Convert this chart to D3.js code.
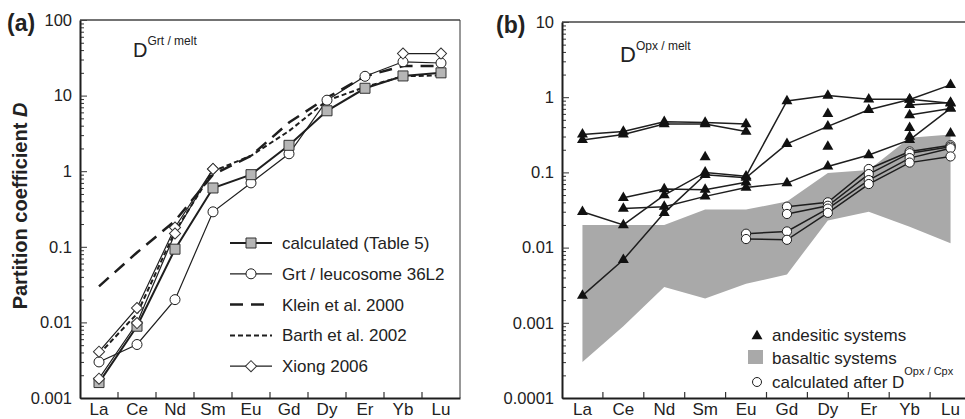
<!DOCTYPE html>
<html>
<head>
<meta charset="utf-8">
<script src="https://cdn.jsdelivr.net/npm/d3@7/dist/d3.min.js"></script>
<style>
  body { margin: 0; background: #fff; }
  svg { display: block; font-family: "Liberation Sans", Arial, Helvetica, sans-serif; }
</style>
</head>
<body>
<svg id="chart" width="965" height="419"></svg>
<script>
// categories (REE)
const ree = ["La", "Ce", "Nd", "Sm", "Eu", "Gd", "Dy", "Er", "Yb", "Lu"];

// panel (a): D Grt/melt
const grtCalc = [0.0016, 0.0089, 0.093, 0.6, 0.9, 2.2, 6.3, 12.5, 18.2, 20];
const grtLeuco = [0.003, 0.0051, 0.02, 0.29, 0.7, 1.7, 8.7, 18, 28, 27];
const klein2000 = [0.03, 0.084, 0.22, 0.9, 1.6, 4.4, 9.4, 18, 24.6, 24.6];
const barth2002 = [0.0038, 0.013, 0.16, 1.0, 1.6, 3.4, 8.6, 13, 18, 18.5];
const xiongA = [0.0041, 0.0155, 0.18, 1.07, null, null, null, null, 36, 36];
const xiongB = [0.0018, 0.0098, 0.15, 1.07, null, null, null, null, null, null];

// panel (b): D Opx/melt
const andA1 = [0.32, 0.35, 0.47, 0.46, 0.44, null, null, null, null, null];
const andA2 = [0.27, 0.32, 0.44, 0.44, 0.35, null, null, null, null, null];
const andA3 = [0.03, 0.02, 0.05, 0.1, 0.089, 0.89, 1.05, 0.94, 0.94, 0.83];
const andA4 = [0.0023, 0.0069, 0.029, 0.093, 0.085, 0.24, 0.41, 0.68, 0.93, 1.46];
const andA5 = [null, 0.046, 0.06, 0.059, 0.074, null, null, null, null, null];
const andA6 = [null, 0.033, 0.035, 0.048, 0.063, 0.072, 0.12, 0.17, 0.27, 0.71];
const andA7 = [null, null, null, null, null, null, null, null, 0.79, 0.85];
const andA8 = [null, null, null, null, null, null, null, null, 0.58, 0.71];
const andSingles = [
  [null, null, null, 0.16, null, null, null, null, null, null],
  [null, null, null, null, null, null, 0.6, null, null, null],
  [null, null, null, null, null, null, 0.22, null, null, null],
  [null, null, null, null, null, null, null, null, 0.39, null],
  [null, null, null, null, null, null, null, null, 0.3, null],
  [null, null, null, null, null, null, null, null, null, 0.33]
];
const basaltMax = [0.02, 0.02, 0.02, 0.032, 0.032, 0.041, 0.098, 0.108, 0.29, 0.32];
const basaltMin = [0.0003, 0.0009, 0.003, 0.0021, 0.0033, 0.0044, 0.023, 0.03, 0.019, 0.0114];
const calcC1 = [null, null, null, null, null, 0.035, 0.04, 0.111, 0.19, 0.23];
const calcC2 = [null, null, null, null, null, 0.028, 0.036, 0.095, 0.18, 0.22];
const calcC3 = [null, null, null, null, 0.0153, 0.0164, 0.033, 0.079, 0.155, 0.21];
const calcC4 = [null, null, null, null, 0.013, 0.0127, 0.029, 0.07, 0.135, 0.163];

// axis ticks
const decadesA = [0.001, 0.01, 0.1, 1, 10, 100];
const labelsA = ["0.001", "0.01", "0.1", "1", "10", "100"];
const decadesB = [0.0001, 0.001, 0.01, 0.1, 1, 10];
const labelsB = ["0.0001", "0.001", "0.01", "0.1", "1", "10"];

const ink = "#1e1e1e";
const svg = d3.select("#chart");

function panel(x0, x1, yTop, yBot, decades, labels, rightBorder) {
  const x = d3.scaleBand().domain(ree).range([x0, x1]);
  const y = d3.scaleLog().domain([decades[0], decades[decades.length - 1]]).range([yBot, yTop]);
  const g = svg.append("g");

  // minor ticks
  const minor = [];
  decades.slice(0, -1).forEach(d => { for (let k = 2; k < 10; k++) minor.push(d * k); });
  g.append("g")
    .attr("transform", `translate(${x0},0)`)
    .call(d3.axisLeft(y).tickValues(minor).tickSize(-4).tickFormat(""))
    .call(a => a.select(".domain").remove())
    .selectAll("line").attr("stroke", "#333");

  const ya = g.append("g")
    .attr("transform", `translate(${x0},0)`)
    .call(d3.axisLeft(y).tickValues(decades).tickSize(-7).tickSizeOuter(0).tickPadding(8)
      .tickFormat(d => labels[decades.indexOf(d)]));
  ya.select(".domain").attr("stroke", ink).attr("stroke-width", 2);
  ya.selectAll(".tick line").attr("stroke", "#333");
  ya.selectAll("text").attr("font-size", 16.5).attr("fill", "#222").attr("font-family", null);

  const xa = g.append("g")
    .attr("transform", `translate(0,${yBot})`)
    .call(d3.axisBottom(x).tickSize(0).tickSizeOuter(0).tickPadding(5));
  xa.select(".domain").attr("stroke", ink).attr("stroke-width", 2);
  xa.selectAll("text").attr("font-size", 17).attr("fill", "#222").attr("font-family", null);

  // inward ticks at category boundaries
  g.selectAll(".bt").data(ree.slice(1)).join("line")
    .attr("x1", d => x(d)).attr("x2", d => x(d))
    .attr("y1", yBot).attr("y2", yBot - 6)
    .attr("stroke", "#333").attr("stroke-width", 1.2);

  g.append("line").attr("x1", x0).attr("x2", x1).attr("y1", yTop).attr("y2", yTop)
    .attr("stroke", "#444").attr("stroke-width", 1.6);
  if (rightBorder) {
    g.append("line").attr("x1", x1).attr("x2", x1).attr("y1", yTop).attr("y2", yBot)
      .attr("stroke", "#333").attr("stroke-width", 1);
  }
  return { g, x, y, cx: c => x(c) + x.bandwidth() / 2 };
}

function series(p, vals, stroke) {
  const pts = vals.map((v, i) => ({ c: ree[i], v }));
  p.g.append("path")
    .attr("fill", "none")
    .attr("stroke", ink)
    .attr("stroke-width", stroke.w)
    .attr("stroke-dasharray", stroke.dash || null)
    .attr("d", d3.line().defined(d => d.v != null).x(d => p.cx(d.c)).y(d => p.y(d.v))(pts));
  return pts.filter(d => d.v != null);
}

const sq = d3.symbol(d3.symbolSquare, 100)();
const dia = d3.symbol(d3.symbolSquare, 62)();
const tri = d3.symbol(d3.symbolTriangle, 52)();

function markers(p, pts, kind) {
  const sel = p.g.selectAll(null).data(pts).enter();
  if (kind === "circle" || kind === "circleSmall") {
    sel.append("circle")
      .attr("cx", d => p.cx(d.c)).attr("cy", d => p.y(d.v))
      .attr("r", kind === "circle" ? 5 : 4.6)
      .attr("fill", "#fff").attr("stroke", ink).attr("stroke-width", 1);
  } else {
    sel.append("path")
      .attr("d", kind === "square" ? sq : kind === "diamond" ? dia : tri)
      .attr("transform", d => `translate(${p.cx(d.c)},${p.y(d.v)})` + (kind === "diamond" ? " rotate(45)" : ""))
      .attr("fill", kind === "square" ? "#b6b6b6" : kind === "diamond" ? "#fff" : "#111")
      .attr("stroke", kind === "triangle" ? "none" : "#333")
      .attr("stroke-width", 1);
  }
}

// ---------- panel (a)
const pa = panel(80, 460, 20, 398, decadesA, labelsA, true);
const kPts = series(pa, klein2000, { w: 2.5, dash: "13,8" });
const bPts = series(pa, barth2002, { w: 2, dash: "5,3" });
const xaPts = series(pa, xiongA, { w: 1.2 });
const xbPts = series(pa, xiongB, { w: 1.2 });
const lPts = series(pa, grtLeuco, { w: 1.2 });
const cPts = series(pa, grtCalc, { w: 2 });
markers(pa, lPts, "circle");
markers(pa, cPts, "square");
markers(pa, xaPts, "diamond");
markers(pa, xbPts, "diamond");

const legA = [
  { label: "calculated (Table 5)", w: 2, mark: "square" },
  { label: "Grt / leucosome 36L2", w: 1.2, mark: "circle" },
  { label: "Klein et al. 2000", w: 2.5, dash: "13,8" },
  { label: "Barth et al. 2002", w: 2, dash: "5,3" },
  { label: "Xiong 2006", w: 1.2, mark: "diamond" }
];
const lgA = svg.append("g");
legA.forEach((d, i) => {
  const yy = 243 + i * 30.8;
  lgA.append("line").attr("x1", 230).attr("x2", 272).attr("y1", yy).attr("y2", yy)
    .attr("stroke", ink).attr("stroke-width", d.w).attr("stroke-dasharray", d.dash || null);
  if (d.mark === "circle") {
    lgA.append("circle").attr("cx", 251).attr("cy", yy).attr("r", 5)
      .attr("fill", "#fff").attr("stroke", ink);
  } else if (d.mark) {
    lgA.append("path").attr("d", d.mark === "square" ? sq : dia)
      .attr("transform", `translate(251,${yy})` + (d.mark === "diamond" ? " rotate(45)" : ""))
      .attr("fill", d.mark === "square" ? "#b6b6b6" : "#fff").attr("stroke", "#333");
  }
  lgA.append("text").attr("x", 282).attr("y", yy + 6).attr("font-size", 17)
    .attr("fill", "#222").text(d.label);
});

// ---------- panel (b)
const pb = panel(562, 971, 22, 398, decadesB, labelsB, false);
const bandPts = ree.map((c, i) => ({ c, lo: basaltMin[i], hi: basaltMax[i] }));
pb.g.insert("path", ":first-child")
  .attr("fill", "#a9a9a9")
  .attr("d", d3.area().x(d => pb.cx(d.c)).y0(d => pb.y(d.lo)).y1(d => pb.y(d.hi))(bandPts));

const andPts = [andA1, andA2, andA3, andA4, andA5, andA6, andA7, andA8]
  .map(s => series(pb, s, { w: 1.5 }));
const calcPts = [calcC1, calcC2, calcC3, calcC4].map(s => series(pb, s, { w: 1.5 }));
andPts.forEach(p => markers(pb, p, "triangle"));
andSingles.forEach(s => markers(pb, s.map((v, i) => ({ c: ree[i], v })).filter(d => d.v != null), "triangle"));
calcPts.forEach(p => markers(pb, p, "circleSmall"));

// legend (b)
const lgB = svg.append("g");
lgB.append("path").attr("d", tri).attr("transform", "translate(757,336)").attr("fill", "#111");
lgB.append("rect").attr("x", 748).attr("y", 350).attr("width", 15).attr("height", 14).attr("fill", "#a9a9a9");
lgB.append("circle").attr("cx", 757).attr("cy", 382).attr("r", 4.5).attr("fill", "#fff").attr("stroke", ink);
lgB.append("text").attr("x", 772).attr("y", 341).attr("font-size", 17).attr("fill", "#222").text("andesitic systems");
lgB.append("text").attr("x", 772).attr("y", 364).attr("font-size", 17).attr("fill", "#222").text("basaltic systems");
const t3 = lgB.append("text").attr("x", 772).attr("y", 388).attr("font-size", 17).attr("fill", "#222");
t3.append("tspan").text("calculated after D");
t3.append("tspan").attr("font-size", 11).attr("dy", -13).text("Opx / Cpx");

// titles and labels
function dTitle(x, y, size, sup) {
  const t = svg.append("text").attr("x", x).attr("y", y).attr("font-size", size).attr("fill", "#222");
  t.append("tspan").text("D");
  t.append("tspan").attr("font-size", 12).attr("dy", -12).text(sup);
}
dTitle(133, 57, 20, "Grt / melt");
dTitle(620, 62, 22, "Opx / melt");

svg.append("text").attr("x", 7).attr("y", 31).attr("font-size", 23).attr("font-weight", "bold")
  .attr("fill", "#222").text("(a)");
svg.append("text").attr("x", 496).attr("y", 33).attr("font-size", 23).attr("font-weight", "bold")
  .attr("fill", "#222").text("(b)");

const yt = svg.append("text").attr("transform", "translate(27,206) rotate(-90)")
  .attr("text-anchor", "middle").attr("font-size", 20).attr("font-weight", "bold").attr("fill", "#222");
yt.append("tspan").text("Partition coefficient ");
yt.append("tspan").attr("font-style", "italic").text("D");
</script>
</body>
</html>
